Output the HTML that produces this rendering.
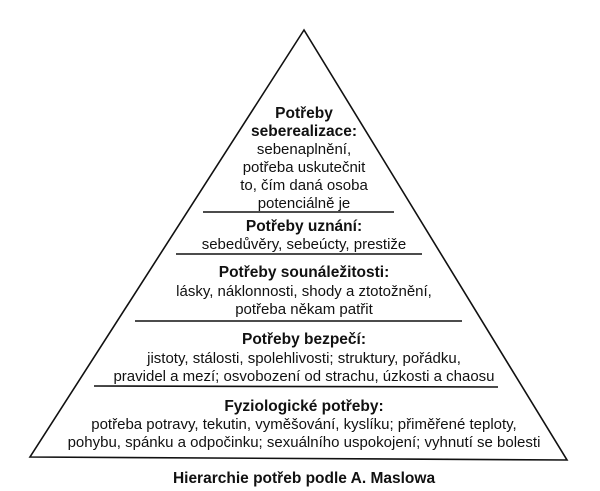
<!DOCTYPE html>
<html><head><meta charset="utf-8"><style>
html,body{margin:0;padding:0;background:#fff;}
svg{display:block;}
text{font-family:"Liberation Sans","DejaVu Sans",sans-serif;font-size:15px;fill:#111;text-anchor:middle;}
.b{font-weight:bold;font-size:15.5px;}
</style></head><body>
<svg width="600" height="491" viewBox="0 0 600 491">
<rect width="600" height="491" fill="#fff"/>
<polygon points="304,30 30,457 567,460" fill="none" stroke="#111" stroke-width="1.6"/>
<line x1="203" y1="212" x2="394" y2="212" stroke="#111" stroke-width="1.6"/>
<line x1="176" y1="254" x2="422" y2="254" stroke="#111" stroke-width="1.6"/>
<line x1="135" y1="321" x2="462" y2="321" stroke="#111" stroke-width="1.6"/>
<line x1="94" y1="386" x2="498" y2="387" stroke="#111" stroke-width="1.6"/>
<text x="304" y="118" class="b">Potřeby</text>
<text x="304" y="136" class="b">seberealizace:</text>
<text x="304" y="154">sebenaplnění,</text>
<text x="304" y="172">potřeba uskutečnit</text>
<text x="304" y="190">to, čím daná osoba</text>
<text x="304" y="208">potenciálně je</text>
<text x="304" y="231" class="b">Potřeby uznání:</text>
<text x="304" y="249">sebedůvěry, sebeúcty, prestiže</text>
<text x="304" y="277" class="b">Potřeby sounáležitosti:</text>
<text x="304" y="296">lásky, náklonnosti, shody a ztotožnění,</text>
<text x="304" y="314">potřeba někam patřit</text>
<text x="304" y="344" class="b">Potřeby bezpečí:</text>
<text x="304" y="363">jistoty, stálosti, spolehlivosti; struktury, pořádku,</text>
<text x="304" y="381">pravidel a mezí; osvobození od strachu, úzkosti a chaosu</text>
<text x="304" y="411" class="b">Fyziologické potřeby:</text>
<text x="304" y="429">potřeba potravy, tekutin, vyměšování, kyslíku; přiměřené teploty,</text>
<text x="304" y="447">pohybu, spánku a odpočinku; sexuálního uspokojení; vyhnutí se bolesti</text>
<text x="304" y="483" class="b">Hierarchie potřeb podle A. Maslowa</text>
</svg>
</body></html>
